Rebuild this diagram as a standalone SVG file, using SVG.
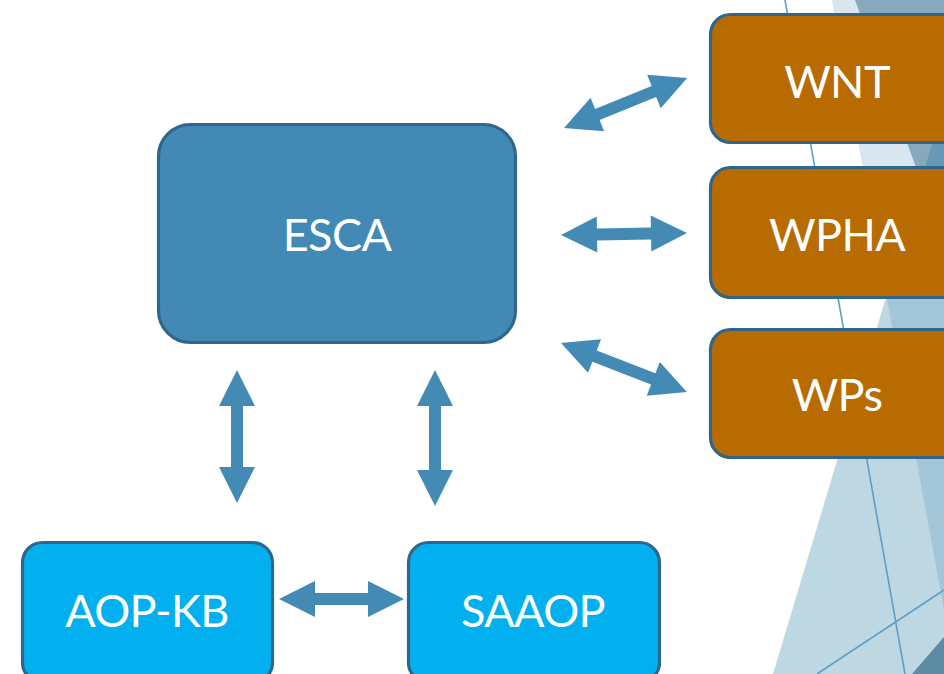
<svg xmlns="http://www.w3.org/2000/svg" width="944" height="674" viewBox="0 0 944 674">
<style>
.box{stroke:#2f6689;stroke-width:3.2}
.esca{fill:#428ab5}
.wp{fill:#b86b00}
.kb{fill:#02b0ef}
.lbl{font-family:Lato,"Open Sans",sans-serif;font-size:45px;letter-spacing:-0.6px;fill:#ffffff;text-anchor:middle}
.arr{fill:#438bb5}
.bgl{stroke:#5d9fc6;stroke-width:1.6;fill:none}
</style>
<rect width="944" height="674" fill="#ffffff"/>
<g id="background">
<polygon points="832,0 944,0 944,610" fill="#d8e7ef"/>
<polygon points="773,674 944,104 944,674" fill="#bdd7e3"/>
<polygon points="944,104 886.4,296 944,610" fill="#a3c6d9"/>
<polygon points="855,0 944,0 944,244" fill="#86a9bd"/>
<polygon points="944,104 921,181 944,244" fill="#6699b5"/>
<polygon points="912,674 944,637 944,674" fill="#5e8ba4"/>
<line class="bgl" x1="785" y1="0" x2="905" y2="674"/>
<line class="bgl" x1="817" y1="674" x2="944" y2="590"/>
</g>
<g id="connectors">
<polygon class="arr" transform="translate(564,128) rotate(-22.1)" points="0,0 36,-18 36,-6 97,-6 97,-18 133,0 97,18 97,6 36,6 36,18"/>
<polygon class="arr" transform="translate(561,235) rotate(-0.9)" points="0,0 36,-18 36,-6 90,-6 90,-18 126,0 90,18 90,6 36,6 36,18"/>
<polygon class="arr" transform="translate(561,343) rotate(21.25)" points="0,0 36,-18 36,-6 99,-6 99,-18 135,0 99,18 99,6 36,6 36,18"/>
<polygon class="arr" transform="translate(237,370) rotate(90)" points="0,0 36,-18 36,-6 97,-6 97,-18 133,0 97,18 97,6 36,6 36,18"/>
<polygon class="arr" transform="translate(435,370) rotate(90)" points="0,0 36,-18 36,-6 100,-6 100,-18 136,0 100,18 100,6 36,6 36,18"/>
<polygon class="arr" transform="translate(279,599)" points="0,0 36,-18 36,-6 89,-6 89,-18 125,0 89,18 89,6 36,6 36,18"/>
</g>
<g id="esca">
<rect class="box esca" x="158.5" y="124.5" width="357" height="218" rx="32"/>
<text class="lbl" x="337" y="251">ESCA</text>
</g>
<g id="wnt">
<rect class="box wp" x="710.5" y="14.5" width="256" height="128" rx="20"/>
<text class="lbl" x="837" y="98">WNT</text>
</g>
<g id="wpha">
<rect class="box wp" x="710.5" y="167.5" width="256" height="130" rx="20"/>
<text class="lbl" x="837" y="251">WPHA</text>
</g>
<g id="wps">
<rect class="box wp" x="710.5" y="329.5" width="256" height="128" rx="20"/>
<text class="lbl" x="837" y="411">WPs</text>
</g>
<g id="aopkb">
<rect class="box kb" x="22.5" y="542.5" width="250" height="140" rx="20"/>
<text class="lbl" x="147" y="627">AOP-KB</text>
</g>
<g id="saaop">
<rect class="box kb" x="408.5" y="542.5" width="251" height="140" rx="20"/>
<text class="lbl" x="533" y="627">SAAOP</text>
</g>
</svg>
